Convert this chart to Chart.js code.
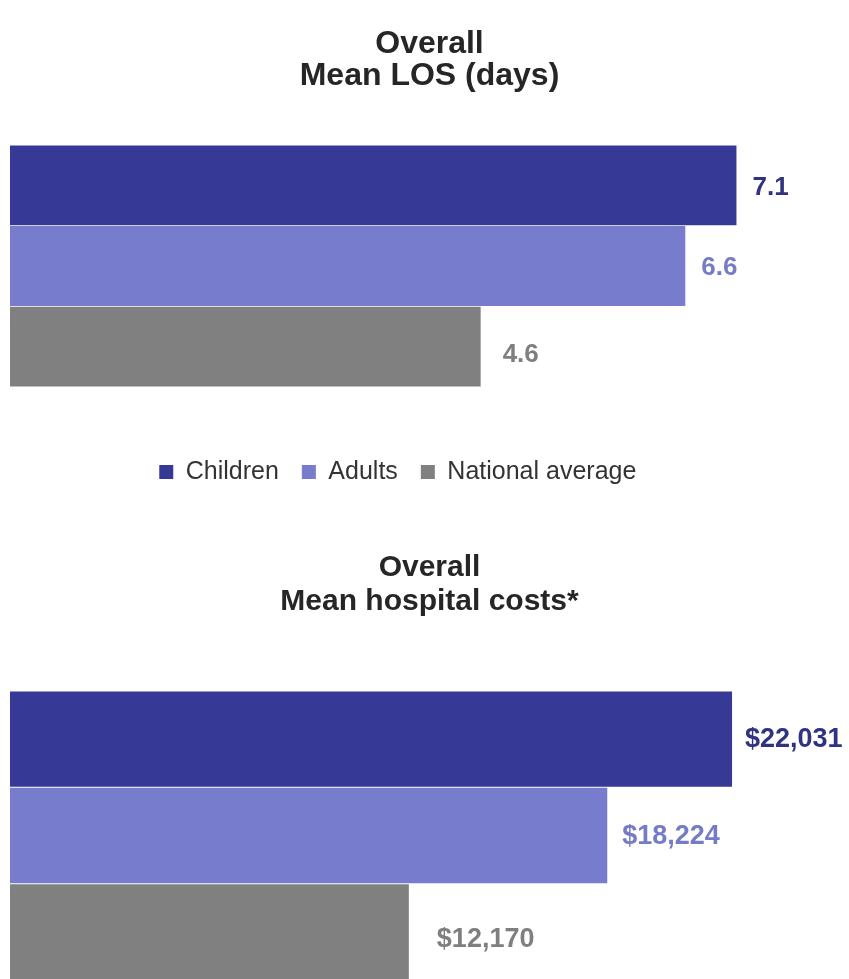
<!DOCTYPE HTML>
<html>

<head>
    <meta charset="utf-8">
    <script src="https://cdn.jsdelivr.net/npm/chart.js@4.4.1/dist/chart.umd.min.js"></script>
    <style>
        html, body {
            margin: 0;
            padding: 0;
            background: #ffffff;
            overflow: hidden;
            font-family: "Liberation Sans", Arial, sans-serif;
        }

        .box {
            position: relative;
            width: 849px;
        }
    </style>
</head>

<body>
    <div class="box" style="height: 400px;"><canvas id="losChart"></canvas></div>
    <div class="box" style="height: 580px;"><canvas id="costChart"></canvas></div>
</body>
<script>
    var seriesNames = ["Children", "Adults", "National average"];
    var losValues = [7.1, 6.6, 4.6];
    var costValues = [22031, 18224, 12170];
    var losTitle = ["Overall", "Mean LOS (days)"];
    var costTitle = ["Overall", "Mean hospital costs*"];
    var barColors = ["#363a96", "#777ccc", "#808080"];
    var labelColors = ["#2f3380", "#767bc6", "#7f7f7f"];

    var FONT = "'Liberation Sans', Arial, sans-serif";

    // writes the value just right of each bar
    var valueLabels = {
        id: "valueLabels",
        afterDatasetsDraw: function (chart, args, opts) {
            var ctx = chart.ctx;
            ctx.save();
            ctx.font = "bold " + opts.size + "px " + FONT;
            ctx.textAlign = "left";
            ctx.textBaseline = "middle";
            chart.data.datasets.forEach(function (ds, i) {
                var bar = chart.getDatasetMeta(i).data[0];
                ctx.fillStyle = labelColors[i];
                ctx.fillText(opts.format(ds.data[0]), bar.x + opts.dx[i], bar.y + opts.dy[i]);
            });
            ctx.restore();
        }
    };

    function makeDatasets(values) {
        return seriesNames.map(function (name, i) {
            return {
                label: name,
                data: [values[i]],
                backgroundColor: barColors[i],
                borderWidth: 0,
                barPercentage: 0.99,
                categoryPercentage: 1
            };
        });
    }

    function makeChart(id, values, title, xMax, extra) {
        var opts = {
            indexAxis: "y",
            responsive: true,
            maintainAspectRatio: false,
            animation: false,
            layout: { padding: extra.padding },
            scales: {
                x: { display: false, min: 0, max: xMax },
                y: { display: false }
            },
            plugins: {
                tooltip: { enabled: false },
                title: {
                    display: true,
                    text: title,
                    color: "#262626",
                    font: extra.titleFont,
                    padding: extra.titlePad
                },
                legend: extra.legend,
                valueLabels: extra.labels
            }
        };
        return new Chart(id, {
            type: "bar",
            data: { labels: ["Overall"], datasets: makeDatasets(values) },
            options: opts,
            plugins: [valueLabels]
        });
    }

    makeChart("losChart", losValues, losTitle, 8.2, {
        padding: { left: 10, right: 0, top: 0, bottom: 13 },
        titleFont: { family: FONT, size: 32, weight: "bold", lineHeight: 1.0 },
        titlePad: { top: 28, bottom: 53 },
        legend: { display: false },
        labels: {
            size: 26,
            dx: [16, 16, 22],
            dy: [2, 2, 8],
            format: function (v) { return v.toFixed(1); }
        }
    });

    makeChart("costChart", costValues, costTitle, 25600, {
        padding: { left: 10, right: 0, top: 36.5, bottom: 0 },
        titleFont: { family: FONT, size: 30, weight: "bold", lineHeight: 1.133 },
        titlePad: { top: 56.5, bottom: 72 },
        legend: {
            display: true,
            position: "top",
            weight: 3000,
            onClick: null,
            labels: {
                color: "#333333",
                font: { family: FONT, size: 25 },
                boxWidth: 14,
                boxHeight: 14,
                padding: 23,
                generateLabels: function (chart) {
                    var items = Chart.defaults.plugins.legend.labels.generateLabels(chart);
                    // blank trailing item nudges the centred row left, as in the original
                    items.push({ text: "  ", fillStyle: "rgba(0,0,0,0)", strokeStyle: "rgba(0,0,0,0)", lineWidth: 0, hidden: false });
                    return items;
                }
            }
        },
        labels: {
            size: 27,
            dx: [13, 15, 28],
            dy: [0, 1, 8],
            format: function (v) { return "$" + v.toLocaleString("en-US"); }
        }
    });
</script>

</html>
